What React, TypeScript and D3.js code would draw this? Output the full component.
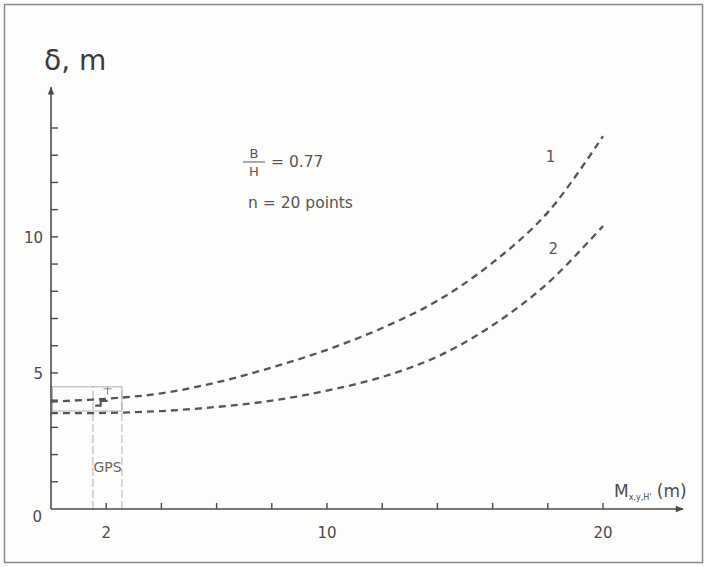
import React, { useEffect, useRef } from "react";
import * as d3 from "d3";

// values
const mValues = [0, 2, 4, 6, 8, 10, 12, 14, 16, 18, 20];
const curve1 = [3.95, 4.05, 4.25, 4.65, 5.2, 5.85, 6.65, 7.65, 9.05, 10.9, 13.7];
const curve2 = [3.52, 3.53, 3.6, 3.75, 3.98, 4.35, 4.85, 5.6, 6.75, 8.3, 10.4];
const xTicks = [2, 4, 6, 8, 10, 12, 14, 16, 18, 20];
const xTickLabels = [2, 10, 20];
const yTicks = [1, 2, 3, 4, 5, 6, 7, 8, 9, 10, 11, 12, 13, 14];
const yTickLabels = [5, 10];
const gpsBox = [0.05, 2.57, 3.6, 4.49]; // m0, m1, d0, d1
const gpsVerticals = [1.52, 2.57];
const gpsErr = [2.05, 4.49, 4.2];

const W = 705;
const H = 567;
const FONT = "'DejaVu Sans', sans-serif";
const INK = "#4a4a4a";

export default function App() {
  const ref = useRef<SVGSVGElement | null>(null);

  useEffect(() => {
    document.body.style.margin = "0";
    const svg = d3.select(ref.current);
    svg.selectAll("*").remove();

    const x = d3.scaleLinear().domain([0, 20]).range([51, 603]);
    const y = d3.scaleLinear().domain([0, 14]).range([509, 128]);

    svg.append("rect").attr("width", W).attr("height", H).attr("fill", "#fdfdfb");
    // frame
    svg.append("rect").attr("x", 4.5).attr("y", 4.5).attr("width", 698).attr("height", 558)
      .attr("fill", "none").attr("stroke", "#8a8a8a").attr("stroke-width", 1.5);

    const defs = svg.append("defs");
    defs.append("marker").attr("id", "arr").attr("viewBox", "0 0 10 10")
      .attr("refX", 9).attr("refY", 5).attr("markerWidth", 10).attr("markerHeight", 8)
      .attr("markerUnits", "userSpaceOnUse").attr("orient", "auto")
      .append("path").attr("d", "M0,1 L10,5 L0,9 Z").attr("fill", INK);

    // GPS region
    const gps = svg.append("g").attr("stroke", "#a8a8a8").attr("stroke-width", 0.9).attr("fill", "none");
    gps.append("rect")
      .attr("x", x(gpsBox[0])).attr("y", y(gpsBox[3]))
      .attr("width", x(gpsBox[1]) - x(gpsBox[0]))
      .attr("height", y(gpsBox[2]) - y(gpsBox[3]));
    gps.selectAll("line.v").data(gpsVerticals).enter().append("line")
      .attr("x1", (d) => x(d)).attr("x2", (d) => x(d))
      .attr("y1", y(0)).attr("y2", y(gpsBox[3]))
      .attr("stroke-dasharray", "8 3");
    gps.append("line").attr("x1", x(gpsErr[0])).attr("x2", x(gpsErr[0]))
      .attr("y1", y(gpsErr[1])).attr("y2", y(gpsErr[2])).attr("stroke", "#777");
    gps.append("line").attr("x1", x(gpsErr[0]) - 4).attr("x2", x(gpsErr[0]) + 4)
      .attr("y1", y(gpsErr[1]) + 2).attr("y2", y(gpsErr[1]) + 2).attr("stroke", "#777");

    svg.append("text").attr("x", x(2.05)).attr("y", y(1.5)).attr("text-anchor", "middle")
      .attr("dominant-baseline", "middle").attr("font-family", FONT).attr("font-size", 14)
      .attr("fill", "#666").text("GPS");

    // axes
    svg.append("line").attr("x1", x(0)).attr("x2", x(22.9)).attr("y1", y(0)).attr("y2", y(0))
      .attr("stroke", INK).attr("stroke-width", 1.6).attr("marker-end", "url(#arr)");
    svg.append("line").attr("x1", x(0)).attr("x2", x(0)).attr("y1", y(0)).attr("y2", y(15.5))
      .attr("stroke", INK).attr("stroke-width", 1.6).attr("marker-end", "url(#arr)");

    svg.append("g").selectAll("line").data(xTicks).enter().append("line")
      .attr("x1", (d) => x(d)).attr("x2", (d) => x(d))
      .attr("y1", y(0)).attr("y2", y(0) - 6).attr("stroke", INK).attr("stroke-width", 1.4);
    svg.append("g").selectAll("line").data(yTicks).enter().append("line")
      .attr("x1", x(0)).attr("x2", x(0) + 7)
      .attr("y1", (d) => y(d)).attr("y2", (d) => y(d)).attr("stroke", INK).attr("stroke-width", 1.4);

    svg.append("g").selectAll("text").data(xTickLabels).enter().append("text")
      .attr("x", (d) => x(d)).attr("y", y(0) + 29).attr("text-anchor", "middle")
      .attr("font-family", FONT).attr("font-size", 15).attr("fill", INK).text((d) => d);
    svg.append("g").selectAll("text").data(yTickLabels).enter().append("text")
      .attr("x", x(0) - 8).attr("y", (d) => y(d) + 6).attr("text-anchor", "end")
      .attr("font-family", FONT).attr("font-size", 15).attr("fill", INK).text((d) => d);
    svg.append("text").attr("x", x(0) - 9).attr("y", y(0) + 13).attr("text-anchor", "end")
      .attr("font-family", FONT).attr("font-size", 15).attr("fill", INK).text("0");

    // axis titles
    svg.append("text").attr("x", 44).attr("y", 70).attr("font-family", FONT)
      .attr("font-size", 28).attr("fill", "#3a3a3a").text("δ, m");
    const xt = svg.append("text").attr("x", 614).attr("y", 497).attr("font-family", FONT)
      .attr("font-size", 17).attr("fill", INK);
    xt.append("tspan").text("M");
    xt.append("tspan").attr("font-size", 8).attr("dy", 3).text("x,y,H'");
    xt.append("tspan").attr("dy", -3).text(" (m)");

    // curves
    const line = d3.line<number>().x((d, i) => x(mValues[i])).y((d) => y(d)).curve(d3.curveCatmullRom.alpha(0.5));
    [curve1, curve2].forEach((c) => {
      svg.append("path").attr("d", line(c)).attr("fill", "none").attr("stroke", "#555")
        .attr("stroke-width", 2.3).attr("stroke-dasharray", "7 5");
    });
    // small step mark inside GPS box
    svg.append("path")
      .attr("d", `M${x(1.6)},${y(3.8)} L${x(1.8)},${y(3.8)} L${x(1.8)},${y(3.97)} L${x(2.05)},${y(3.97)}`)
      .attr("fill", "none").attr("stroke", "#555").attr("stroke-width", 2.2);

    // curve labels
    svg.append("text").attr("x", x(18.1)).attr("y", y(12.75)).attr("text-anchor", "middle")
      .attr("font-family", FONT).attr("font-size", 15).attr("fill", "#555").text("1");
    svg.append("text").attr("x", x(18.2)).attr("y", y(9.38)).attr("text-anchor", "middle")
      .attr("font-family", FONT).attr("font-size", 15).attr("fill", "#555").text("2");

    // annotation
    const ann = svg.append("g").attr("font-family", FONT).attr("fill", "#555").attr("font-size", 15.5);
    ann.append("text").attr("x", 254).attr("y", 158).attr("text-anchor", "middle").attr("font-size", 13).text("B");
    ann.append("line").attr("x1", 243).attr("x2", 265).attr("y1", 162).attr("y2", 162)
      .attr("stroke", "#555").attr("stroke-width", 1);
    ann.append("text").attr("x", 254).attr("y", 176).attr("text-anchor", "middle").attr("font-size", 13).text("H");
    ann.append("text").attr("x", 271).attr("y", 167).text("= 0.77");
    ann.append("text").attr("x", 248).attr("y", 208).text("n = 20 points");
  }, []);

  return <svg ref={ref} width={W} height={H} style={{ display: "block" }} />;
}
